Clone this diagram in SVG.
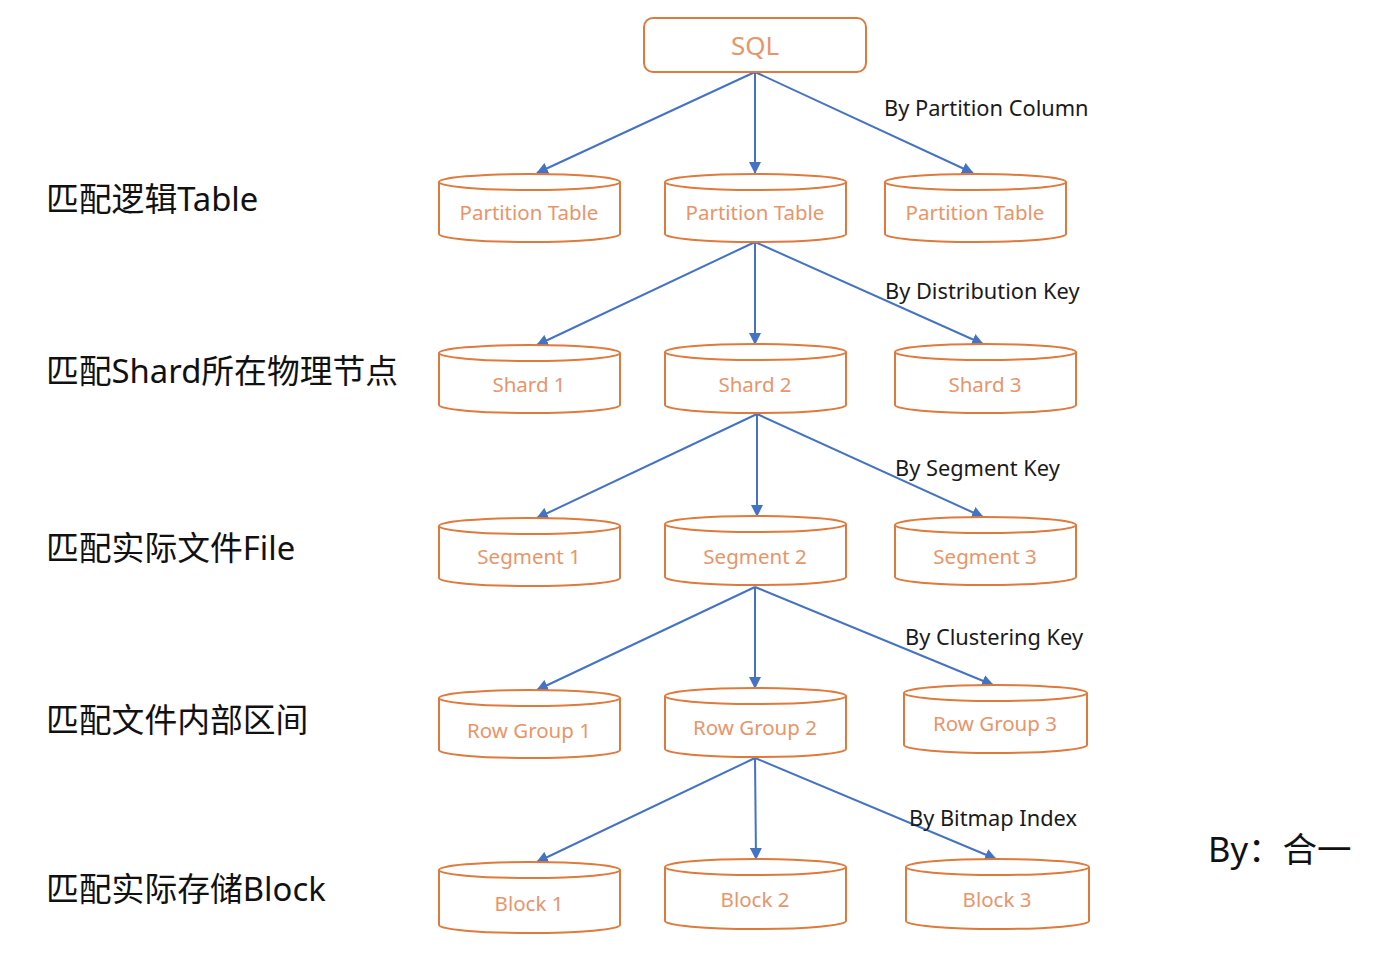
<svg xmlns="http://www.w3.org/2000/svg" width="1400" height="954" viewBox="0 0 1400 954">
<defs>
<style>
.cyl{fill:#fff;stroke:#E07A3C;stroke-width:2}
.nt{font-family:"Noto Sans","Noto Sans CJK SC",sans-serif;font-size:20.5px;fill:#E8956A;text-anchor:middle;dominant-baseline:central}
.el{font-family:"Noto Sans","Noto Sans CJK SC",sans-serif;font-size:21.8px;fill:#1a1a1a}
.lt{font-family:"Noto Sans","Noto Sans CJK SC",sans-serif;font-size:32.8px;fill:#111;dominant-baseline:central}
.cn{stroke:#4472C4;stroke-width:2;fill:none;marker-end:url(#ah)}
</style>
<marker id="ah" markerWidth="12" markerHeight="12" refX="11" refY="6" orient="auto" markerUnits="userSpaceOnUse">
<path d="M0,0 L12,6 L0,12 z" fill="#4472C4"/>
</marker>
</defs>
<rect width="1400" height="954" fill="#fff"/>

<g id="connectors">
<line class="cn" x1="755" y1="72" x2="537" y2="173"/>
<line class="cn" x1="755" y1="72" x2="755" y2="173"/>
<line class="cn" x1="755" y1="72" x2="973" y2="173"/>
<line class="cn" x1="755" y1="242" x2="537" y2="345"/>
<line class="cn" x1="755" y1="242" x2="755" y2="344"/>
<line class="cn" x1="755" y1="242" x2="983" y2="344"/>
<line class="cn" x1="757" y1="414" x2="537" y2="518"/>
<line class="cn" x1="757" y1="414" x2="757" y2="516"/>
<line class="cn" x1="757" y1="414" x2="983" y2="517"/>
<line class="cn" x1="755" y1="587" x2="537" y2="690"/>
<line class="cn" x1="755" y1="587" x2="755" y2="688"/>
<line class="cn" x1="755" y1="587" x2="993" y2="685"/>
<line class="cn" x1="755" y1="758" x2="537" y2="862"/>
<line class="cn" x1="755" y1="758" x2="756" y2="859"/>
<line class="cn" x1="755" y1="758" x2="996" y2="859"/>
</g>

<g id="edge-labels">
<text class="el" x="884" y="116">By Partition Column</text>
<text class="el" x="885" y="299">By Distribution Key</text>
<text class="el" x="895" y="476">By Segment Key</text>
<text class="el" x="905" y="645">By Clustering Key</text>
<text class="el" x="909" y="826">By Bitmap Index</text>
</g>

<g id="sql">
<rect x="644" y="18" width="222" height="54" rx="9" fill="#fff" stroke="#E07A3C" stroke-width="2"/>
<text class="nt" x="755" y="45" style="font-size:26px">SQL</text>
</g>

<g id="pt1"><path class="cyl" d="M439,182 V234 A90.5,8 0 0 0 620,234 V182"/><ellipse class="cyl" cx="529.5" cy="182" rx="90.5" ry="8"/><text class="nt" x="529" y="212">Partition Table</text></g>
<g id="pt2"><path class="cyl" d="M665,182 V234 A90.5,8 0 0 0 846,234 V182"/><ellipse class="cyl" cx="755.5" cy="182" rx="90.5" ry="8"/><text class="nt" x="755" y="212">Partition Table</text></g>
<g id="pt3"><path class="cyl" d="M885,182 V234 A90.5,8 0 0 0 1066,234 V182"/><ellipse class="cyl" cx="975.5" cy="182" rx="90.5" ry="8"/><text class="nt" x="975" y="212">Partition Table</text></g>

<g id="shard1"><path class="cyl" d="M439,353 V405 A90.5,8 0 0 0 620,405 V353"/><ellipse class="cyl" cx="529.5" cy="353" rx="90.5" ry="8"/><text class="nt" x="529" y="384">Shard 1</text></g>
<g id="shard2"><path class="cyl" d="M665,352 V405 A90.5,8 0 0 0 846,405 V352"/><ellipse class="cyl" cx="755.5" cy="352" rx="90.5" ry="8"/><text class="nt" x="755" y="384">Shard 2</text></g>
<g id="shard3"><path class="cyl" d="M895,352 V405 A90.5,8 0 0 0 1076,405 V352"/><ellipse class="cyl" cx="985.5" cy="352" rx="90.5" ry="8"/><text class="nt" x="985" y="384">Shard 3</text></g>

<g id="seg1"><path class="cyl" d="M439,526 V578 A90.5,8 0 0 0 620,578 V526"/><ellipse class="cyl" cx="529.5" cy="526" rx="90.5" ry="8"/><text class="nt" x="529" y="556">Segment 1</text></g>
<g id="seg2"><path class="cyl" d="M665,524 V577 A90.5,8 0 0 0 846,577 V524"/><ellipse class="cyl" cx="755.5" cy="524" rx="90.5" ry="8"/><text class="nt" x="755" y="556">Segment 2</text></g>
<g id="seg3"><path class="cyl" d="M895,525 V577 A90.5,8 0 0 0 1076,577 V525"/><ellipse class="cyl" cx="985.5" cy="525" rx="90.5" ry="8"/><text class="nt" x="985" y="556">Segment 3</text></g>

<g id="rg1"><path class="cyl" d="M439,698 V750 A90.5,8 0 0 0 620,750 V698"/><ellipse class="cyl" cx="529.5" cy="698" rx="90.5" ry="8"/><text class="nt" x="529" y="730">Row Group 1</text></g>
<g id="rg2"><path class="cyl" d="M665,696 V749 A90.5,8 0 0 0 846,749 V696"/><ellipse class="cyl" cx="755.5" cy="696" rx="90.5" ry="8"/><text class="nt" x="755" y="727">Row Group 2</text></g>
<g id="rg3"><path class="cyl" d="M904,693 V745 A91.5,8 0 0 0 1087,745 V693"/><ellipse class="cyl" cx="995.5" cy="693" rx="91.5" ry="8"/><text class="nt" x="995" y="723">Row Group 3</text></g>

<g id="blk1"><path class="cyl" d="M439,870 V925 A90.5,8 0 0 0 620,925 V870"/><ellipse class="cyl" cx="529.5" cy="870" rx="90.5" ry="8"/><text class="nt" x="529" y="903">Block 1</text></g>
<g id="blk2"><path class="cyl" d="M665,867 V921 A90.5,8 0 0 0 846,921 V867"/><ellipse class="cyl" cx="755.5" cy="867" rx="90.5" ry="8"/><text class="nt" x="755" y="899">Block 2</text></g>
<g id="blk3"><path class="cyl" d="M906,867 V921 A91.5,8 0 0 0 1089,921 V867"/><ellipse class="cyl" cx="997.5" cy="867" rx="91.5" ry="8"/><text class="nt" x="997" y="899">Block 3</text></g>

<g id="level-labels">
<text class="lt" x="46" y="198">匹配逻辑Table</text>
<text class="lt" x="46" y="370">匹配Shard所在物理节点</text>
<text class="lt" x="46" y="547">匹配实际文件File</text>
<text class="lt" x="46" y="719">匹配文件内部区间</text>
<text class="lt" x="46" y="888">匹配实际存储Block</text>
</g>

<g id="author">
<text class="lt" x="1208" y="848" style="font-size:34.5px">By：合一</text>
</g>
</svg>
